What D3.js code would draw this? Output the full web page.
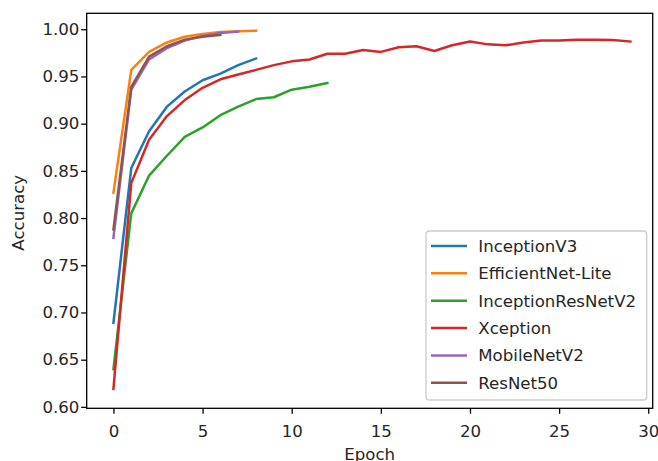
<!DOCTYPE html>
<html>
<head>
<meta charset="utf-8">
<script src="https://cdn.jsdelivr.net/npm/d3@7"></script>
<style>
  body { margin: 0; background: #fff; }
  svg text { font-family: "DejaVu Sans", sans-serif; }
</style>
</head>
<body>
<div id="chart"></div>
<script>
// accuracy per epoch
const inceptionV3 = [0.689, 0.853, 0.892, 0.918, 0.934, 0.946, 0.953, 0.962, 0.969];
const efficientNetLite = [0.827, 0.957, 0.976, 0.986, 0.992, 0.995, 0.997, 0.998, 0.9985];
const inceptionResNetV2 = [0.640, 0.805, 0.845, 0.866, 0.886, 0.896, 0.909, 0.918, 0.926, 0.928, 0.936, 0.939, 0.943];
const xception = [0.619, 0.837, 0.883, 0.908, 0.925, 0.938, 0.947, 0.952, 0.957, 0.962, 0.966, 0.968, 0.974,
  0.974, 0.978, 0.976, 0.981, 0.982, 0.977, 0.983, 0.987, 0.984, 0.983, 0.986, 0.988, 0.988, 0.989, 0.989, 0.9885, 0.987];
const mobileNetV2 = [0.779, 0.936, 0.968, 0.980, 0.988, 0.993, 0.996, 0.9975];
const resNet50 = [0.788, 0.939, 0.971, 0.982, 0.989, 0.992, 0.994];

const seriesNames = ["InceptionV3", "EfficientNet-Lite", "InceptionResNetV2", "Xception", "MobileNetV2", "ResNet50"];
const seriesValues = [inceptionV3, efficientNetLite, inceptionResNetV2, xception, mobileNetV2, resNet50];
const colors = ["#1f77b4", "#ff7f0e", "#2ca02c", "#d62728", "#9467bd", "#8c564b"];

const xTicks = [0, 5, 10, 15, 20, 25, 30];
const yTicks = [0.60, 0.65, 0.70, 0.75, 0.80, 0.85, 0.90, 0.95, 1.00];

const width = 658;
const height = 461;
const fontSize = 16.6;

const svg = d3.select("#chart").append("svg")
  .attr("width", width)
  .attr("height", height);

const plot = { left: 86.7, right: 652.7, top: 13.3, bottom: 408.3 };

const x = d3.scaleLinear()
  .domain([-1.5, 30.25])
  .range([plot.left, plot.right]);

const y = d3.scaleLinear()
  .domain([0.5985, 1.0169])
  .range([plot.bottom, plot.top]);

// lines
const line = d3.line()
  .x((d, i) => x(i))
  .y(d => y(d));

svg.append("g")
  .selectAll("path")
  .data(seriesValues)
  .enter()
  .append("path")
  .attr("d", d => line(d))
  .attr("fill", "none")
  .attr("stroke", (d, i) => colors[i])
  .attr("stroke-width", 2.5)
  .attr("stroke-linejoin", "round")
  .attr("stroke-linecap", "square");

// axes
const xAxis = svg.append("g")
  .attr("transform", `translate(0,${plot.bottom})`)
  .call(d3.axisBottom(x).tickValues(xTicks).tickSize(5.5).tickPadding(11).tickSizeOuter(0));

const yAxis = svg.append("g")
  .attr("transform", `translate(${plot.left},0)`)
  .call(d3.axisLeft(y).tickValues(yTicks).tickFormat(d3.format(".2f")).tickSize(5.5).tickPadding(1.8).tickSizeOuter(0));

[xAxis, yAxis].forEach(a => {
  a.select(".domain").remove();
  a.selectAll("line").attr("stroke", "#000").attr("stroke-width", 1.3);
  a.selectAll("text")
    .attr("fill", "#262626")
    .style("font-size", fontSize + "px")
    .style("font-family", "DejaVu Sans");
});

// frame
svg.append("rect")
  .attr("x", plot.left)
  .attr("y", plot.top)
  .attr("width", plot.right - plot.left)
  .attr("height", plot.bottom - plot.top)
  .attr("fill", "none")
  .attr("stroke", "#000")
  .attr("stroke-width", 1.3);

// axis labels
svg.append("text")
  .attr("x", (plot.left + plot.right) / 2)
  .attr("y", 460)
  .attr("text-anchor", "middle")
  .attr("fill", "#262626")
  .style("font-size", fontSize + "px")
  .text("Epoch");

svg.append("text")
  .attr("transform", `translate(23.5,${(plot.top + plot.bottom) / 2 + 2}) rotate(-90)`)
  .attr("text-anchor", "middle")
  .attr("fill", "#262626")
  .style("font-size", fontSize + "px")
  .text("Accuracy");

// legend
const legend = svg.append("g");

legend.append("rect")
  .attr("x", 426)
  .attr("y", 231)
  .attr("width", 220.7)
  .attr("height", 169)
  .attr("rx", 3.3)
  .attr("fill", "#fff")
  .attr("fill-opacity", 0.8)
  .attr("stroke", "#cccccc")
  .attr("stroke-width", 1.3);

const rows = legend.selectAll("g.row")
  .data(seriesNames)
  .enter()
  .append("g")
  .attr("class", "row")
  .attr("transform", (d, i) => `translate(0,${246 + i * 27.35})`);

rows.append("line")
  .attr("x1", 431)
  .attr("x2", 467)
  .attr("stroke", (d, i) => colors[i])
  .attr("stroke-width", 2.5);

rows.append("text")
  .attr("x", 478.3)
  .attr("dy", "0.36em")
  .attr("fill", "#262626")
  .style("font-size", fontSize + "px")
  .text(d => d);
</script>
</body>
</html>
